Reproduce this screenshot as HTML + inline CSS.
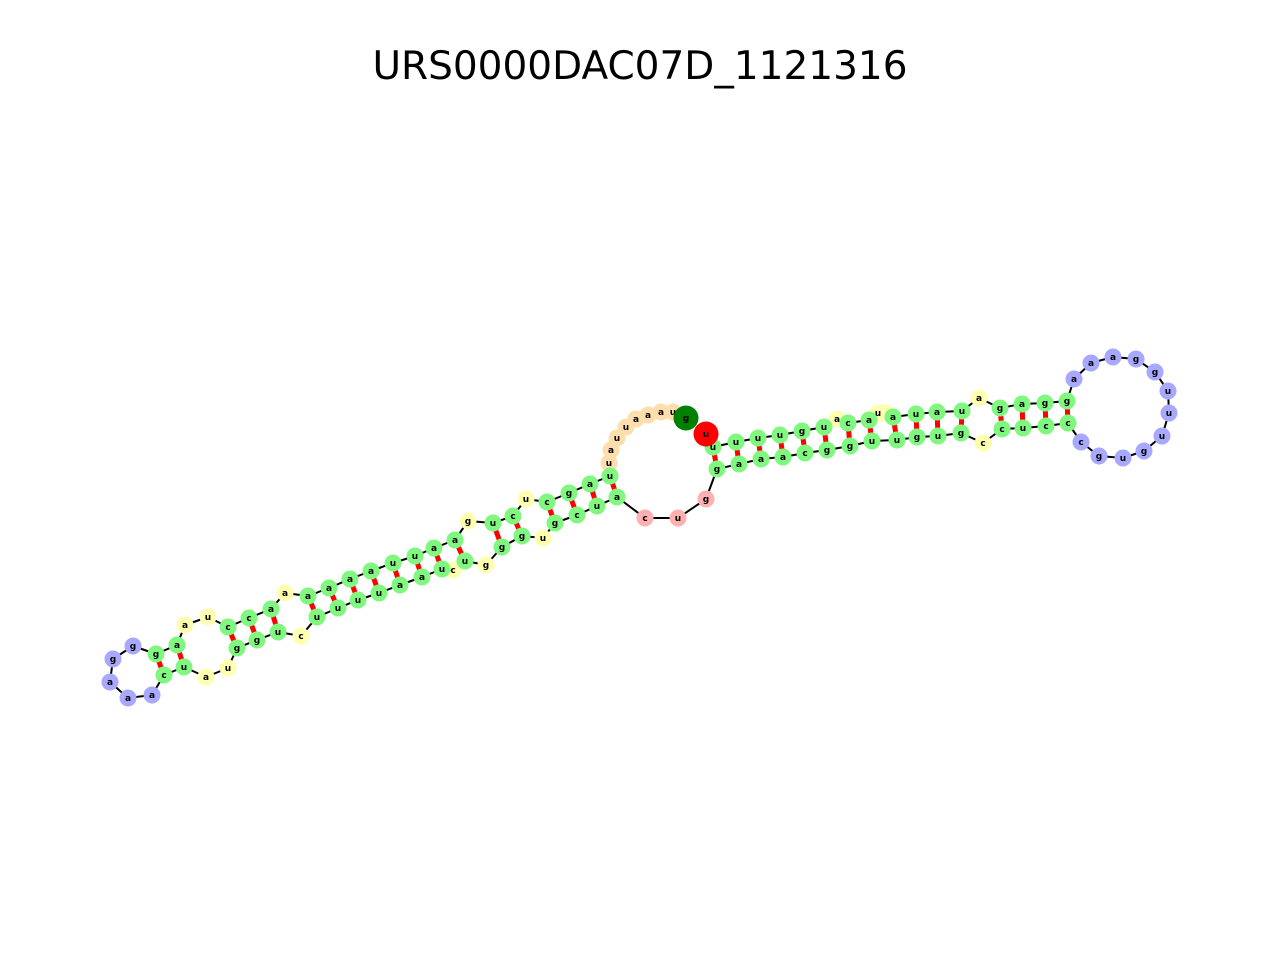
<!DOCTYPE html>
<html><head><meta charset="utf-8"><style>
html,body{margin:0;padding:0;background:#fff;}
svg{display:block;}
text{font-family:"DejaVu Sans","Liberation Sans",sans-serif;}
</style></head><body>
<svg id="chart" width="1280" height="960" viewBox="0 0 1280 960">
<text x="640" y="79" text-anchor="middle" font-size="39" fill="#000" style="font-family:'DejaVu Sans','Liberation Sans',sans-serif">URS0000DAC07D_1121316</text>
<g id="pairs"></g><g id="backbone"></g><g id="nodes"></g>
</svg>
<script>
const seq = "guaaauuauu"+"agcucugaau"+"uaaaaaaccu"+"aagggaaacu"+"auggucuuuu"+"aaucugggug"+"cuacuggaaa"+"cgguugugcc"+"ucccguguuu"+"ggaaaggaga"+"uauauuacau"+"guuuuu";
const types = "D"+"OOOOOOOO"+"GGGG"+"Y"+"GG"+"Y"+"GGGGGGGG"+"Y"+"GGG"+"YY"+"GG"+"BBBBB"+"GG"+"YY"+"GGG"+"Y"+"GGGGGGG"+"Y"+"G"+"Y"+"GG"+"Y"+"GGGG"+"PPP"+"GGGGGGGGGGGG"+"Y"+"GGGG"+"BBBBBBBBBBBB"+"GGGG"+"Y"+"GGGG"+"YY"+"GG"+"Y"+"GGGGGG"+"R";
const nodeX = [686,673,661,648,636,626,617,611,609,610,590,569,547,526,513,493,468,455,434,415,393,371,350,329,308,285,271,249,228,208,185,177,156,133,113,110,128,152,164,184,206,228,237,257,278,301,317,338,358,379,400,422,442,453,465,486,502,522,543,555,577,597,617,645,678,706,717,739,761,783,805,827,850,872,897,917,938,961,983,1002,1023,1046,1068,1081,1099,1123,1144,1162,1169,1168,1155,1136,1113,1091,1074,1067,1045,1022,1000,979,962,937,916,893,886,878,869,848,837,824,802,780,758,736,713,706];
const nodeY = [418,412,412,415,419,427,438,450,463,476,484,493,502,499,516,523,521,540,548,556,563,571,579,588,596,593,609,618,627,617,625,645,654,646,659,682,698,695,675,667,677,668,648,640,632,636,617,608,600,593,585,577,569,570,561,565,547,536,538,523,515,506,497,518,518,499,469,464,459,457,453,450,446,441,440,437,436,433,443,429,428,426,423,442,456,458,451,436,413,391,372,359,357,363,379,401,403,404,408,398,411,412,414,417,413,413,420,423,419,427,431,435,438,442,447,434];
const pairI = [10,11,12,13,15,16,18,19,20,21,22,23,24,25,27,28,29,32,33,67,68,69,70,71,72,73,74,75,76,77,78,80,81,82,83];
const pairJ = [63,62,61,60,58,57,55,53,52,51,50,49,48,47,45,44,43,40,39,115,114,113,112,111,110,108,107,104,103,102,101,99,98,97,96];
const colors = {D:"#008000",R:"#ff0000",O:"#ffdead",G:"#80f880",Y:"#ffffb0",B:"#a8a8ff",P:"#ffb0b0"};
const NS="http://www.w3.org/2000/svg";
const pg=document.getElementById('pairs'), bg=document.getElementById('backbone'), ng=document.getElementById('nodes');
const N=Math.min(seq.length,nodeX.length,nodeY.length,types.length);
function sx(i){return nodeX[i];} function sy(i){return nodeY[i];}
for(let k=0;k<pairI.length;k++){
  const a=pairI[k]-1,b=pairJ[k]-1;
  const l=document.createElementNS(NS,'line');
  l.setAttribute('x1',sx(a));l.setAttribute('y1',sy(a));l.setAttribute('x2',sx(b));l.setAttribute('y2',sy(b));
  l.setAttribute('stroke','#ff0000');l.setAttribute('stroke-width','5');
  
  
  pg.appendChild(l);
}
for(let i=0;i<N-1;i++){
  const l=document.createElementNS(NS,'line');
  l.setAttribute('x1',sx(i));l.setAttribute('y1',sy(i));l.setAttribute('x2',sx(i+1));l.setAttribute('y2',sy(i+1));
  l.setAttribute('stroke','#000');l.setAttribute('stroke-width','2');
  
  
  bg.appendChild(l);
}
const order=[];
for(let i=0;i<N;i++) if(types[i]==='Y'||types[i]==='O') order.push(i);
for(let i=0;i<N;i++) if(!(types[i]==='Y'||types[i]==='O')) order.push(i);
for(const i of order){
  const t=types[i];
  const g=document.createElementNS(NS,'g');
  
  
  const c=document.createElementNS(NS,'circle');
  c.setAttribute('cx',sx(i));c.setAttribute('cy',sy(i));
  c.setAttribute('r',(t==='D'||t==='R')?12.5:8.5);
  c.setAttribute('fill',colors[t]);
  g.appendChild(c);
  const tx=document.createElementNS(NS,'text');
  tx.setAttribute('x',sx(i));tx.setAttribute('y',sy(i)+3);
  tx.setAttribute('text-anchor','middle');tx.setAttribute('font-size','9');tx.setAttribute('font-weight','bold');
  tx.textContent=seq[i];
  g.appendChild(tx);
  ng.appendChild(g);
}
</script>
</body></html>
